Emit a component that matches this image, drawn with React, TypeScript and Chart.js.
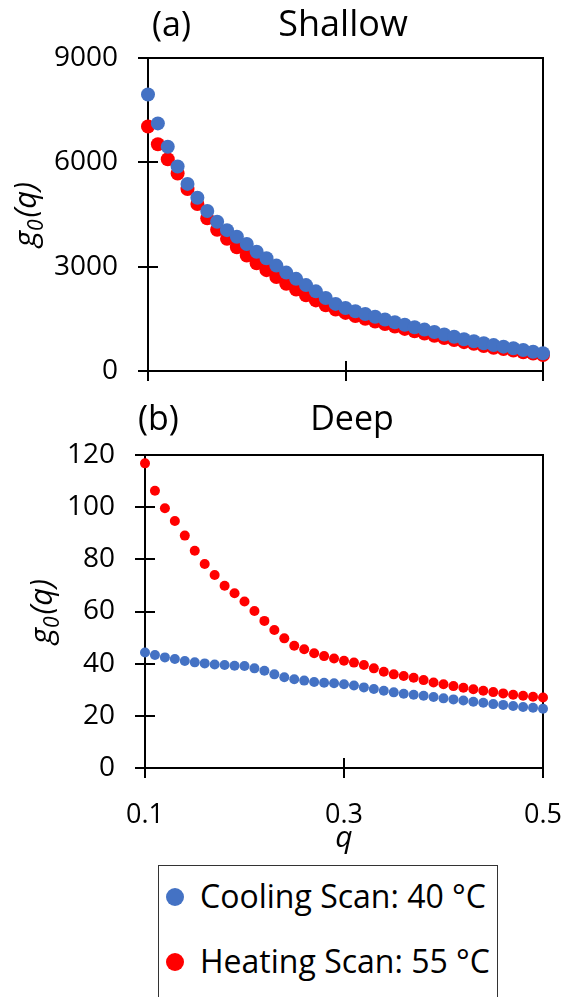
import React, { useEffect, useRef } from "react";
import { Chart, registerables } from "chart.js";

Chart.register(...registerables);

// ---------------- data ----------------
const Q = [
  0.10, 0.11, 0.12, 0.13, 0.14, 0.15, 0.16, 0.17, 0.18, 0.19,
  0.20, 0.21, 0.22, 0.23, 0.24, 0.25, 0.26, 0.27, 0.28, 0.29,
  0.30, 0.31, 0.32, 0.33, 0.34, 0.35, 0.36, 0.37, 0.38, 0.39,
  0.40, 0.41, 0.42, 0.43, 0.44, 0.45, 0.46, 0.47, 0.48, 0.49, 0.50,
];

const shallowCooling = [
  7950, 7120, 6450, 5880, 5380, 4980, 4600, 4290, 4050, 3860,
  3650, 3430, 3240, 3030, 2830, 2650, 2470, 2290, 2100, 1930,
  1810, 1720, 1640, 1560, 1480, 1400, 1330, 1260, 1190, 1120,
  1050, 985, 915, 855, 800, 745, 700, 655, 605, 555, 510,
];

const shallowHeating = [
  7030, 6520, 6090, 5680, 5230, 4800, 4390, 4060, 3800, 3560,
  3320, 3100, 2900, 2700, 2510, 2340, 2180, 2030, 1890, 1770,
  1670, 1580, 1500, 1420, 1350, 1280, 1210, 1140, 1080, 1010,
  950, 890, 830, 780, 720, 670, 630, 590, 540, 500, 460,
];

const deepCooling = [
  44.3, 43.3, 42.4, 41.8, 41.0, 40.5, 40.1, 39.7, 39.5, 39.2,
  39.1, 38.2, 37.3, 35.9, 34.8, 34.0, 33.5, 33.0, 32.7, 32.5,
  32.1, 31.6, 30.9, 30.3, 29.6, 29.0, 28.5, 28.1, 27.7, 27.2,
  26.7, 26.3, 25.9, 25.4, 25.0, 24.5, 24.2, 23.8, 23.4, 23.1, 22.7,
];

const deepHeating = [
  116.8, 106.3, 99.6, 94.7, 89.1, 83.3, 78.2, 74.0, 69.9, 67.0,
  63.8, 60.2, 56.4, 52.9, 49.7, 46.9, 45.5, 44.0, 42.9, 42.0,
  41.1, 40.4, 39.5, 38.2, 36.9, 35.9, 35.3, 34.6, 33.7, 32.8,
  32.1, 31.4, 30.8, 30.2, 29.6, 29.1, 28.6, 28.1, 27.7, 27.3, 27.0,
];

const qTicks = [0.1, 0.3, 0.5];
const qTickLabels = ["0.1", "0.3", "0.5"];
const shallowTicks = [0, 3000, 6000, 9000];
const deepTicks = [0, 20, 40, 60, 80, 100, 120];

const seriesNames = ["Cooling Scan: 40 °C", "Heating Scan: 55 °C"];
const panelTags = ["(a)", "(b)"];
const panelTitles = ["Shallow", "Deep"];

const COOL = "#4472C4";
const HEAT = "#FF0000";
const FONT = "'Open Sans', sans-serif";
const INK = "#000000";

type PanelCfg = {
  tag: string;
  title: string;
  tagX: number;
  titleX: number;
  titleSize: number;
  baseline: number;
  yTitleX: number;
};

function makePanelPlugin(cfg: PanelCfg) {
  return {
    id: "panelDecor",
    beforeDatasetsDraw(chart: any) {
      const ctx = chart.ctx;
      const a = chart.chartArea;
      const xs = chart.scales.x;
      const ys = chart.scales.y;
      ctx.save();
      ctx.strokeStyle = INK;
      ctx.lineWidth = 2;
      ctx.strokeRect(a.left, a.top, a.right - a.left, a.bottom - a.top);
      ctx.beginPath();
      for (const v of qTicks) {
        const px = Math.round(xs.getPixelForValue(v));
        ctx.moveTo(px, a.bottom - 10);
        ctx.lineTo(px, a.bottom + 10);
      }
      for (const t of ys.ticks) {
        const py = Math.round(ys.getPixelForValue(t.value));
        ctx.moveTo(a.left - 10, py);
        ctx.lineTo(a.left + 10, py);
      }
      ctx.stroke();
      ctx.restore();
    },
    afterDraw(chart: any) {
      const ctx = chart.ctx;
      const a = chart.chartArea;
      ctx.save();
      ctx.fillStyle = INK;
      ctx.textBaseline = "alphabetic";
      ctx.font = `34px ${FONT}`;
      ctx.textAlign = "left";
      ctx.fillText(cfg.tag, cfg.tagX, cfg.baseline);
      ctx.font = `${cfg.titleSize}px ${FONT}`;
      ctx.textAlign = "center";
      ctx.fillText(cfg.title, cfg.titleX, cfg.baseline);

      // rotated y-axis title g0(q)
      const cy = (a.top + a.bottom) / 2;
      ctx.translate(cfg.yTitleX, cy);
      ctx.rotate(-Math.PI / 2);
      const big = `italic 31px ${FONT}`;
      const small = `italic 21px ${FONT}`;
      ctx.font = big;
      const wg = ctx.measureText("g").width;
      ctx.font = small;
      const w0 = ctx.measureText("0").width;
      ctx.font = big;
      const wq = ctx.measureText("(q)").width;
      const total = wg + w0 + 2 + wq;
      let x = -total / 2;
      ctx.textAlign = "left";
      ctx.font = big;
      ctx.fillText("g", x, 0);
      x += wg;
      ctx.font = small;
      ctx.fillText("0", x, 7);
      x += w0 + 2;
      ctx.font = big;
      ctx.fillText("(q)", x, 0);
      ctx.restore();
    },
  };
}

function makeChart(
  canvas: HTMLCanvasElement,
  opts: {
    cool: number[];
    heat: number[];
    radius: number;
    yMax: number;
    yTicks: number[];
    yWidth: number;
    pad: { top: number; right: number; bottom: number; left: number };
    xHeight: number;
    showX: boolean;
    plugin: any;
  }
) {
  const toPts = (arr: number[]) => Q.map((q, i) => ({ x: q, y: arr[i] }));
  return new Chart(canvas, {
    type: "scatter",
    data: {
      datasets: [
        {
          label: seriesNames[0],
          data: toPts(opts.cool),
          backgroundColor: COOL,
          borderColor: COOL,
          pointRadius: opts.radius,
          pointBorderWidth: 0,
          clip: false as any,
        },
        {
          label: seriesNames[1],
          data: toPts(opts.heat),
          backgroundColor: HEAT,
          borderColor: HEAT,
          pointRadius: opts.radius,
          pointBorderWidth: 0,
          clip: false as any,
        },
      ],
    },
    options: {
      responsive: false,
      animation: false,
      events: [],
      layout: { padding: opts.pad },
      plugins: {
        legend: { display: false },
        tooltip: { enabled: false },
        title: { display: false },
      },
      scales: {
        x: {
          type: "linear",
          min: 0.1,
          max: 0.5,
          grid: { display: false, drawTicks: false },
          border: { display: false },
          afterBuildTicks: (s: any) => {
            s.ticks = qTicks.map((v) => ({ value: v }));
          },
          afterFit: (s: any) => {
            s.height = opts.xHeight;
            s.paddingLeft = 0;
            s.paddingRight = 0;
          },
          ticks: {
            display: opts.showX,
            padding: 31,
            maxRotation: 0,
            autoSkip: false,
            color: INK,
            font: { family: FONT, size: 27 },
            callback: (v: any) => {
              const i = qTicks.findIndex((t) => Math.abs(t - Number(v)) < 1e-9);
              return i >= 0 ? qTickLabels[i] : "";
            },
          },
          title: {
            display: opts.showX,
            text: "q",
            color: INK,
            font: { family: FONT, size: 30, style: "italic" },
            padding: { top: 0, bottom: 4 },
          },
        },
        y: {
          type: "linear",
          min: 0,
          max: opts.yMax,
          grid: { display: false, drawTicks: false },
          border: { display: false },
          afterBuildTicks: (s: any) => {
            s.ticks = opts.yTicks.map((v) => ({ value: v }));
          },
          afterFit: (s: any) => {
            s.width = opts.yWidth;
            s.paddingTop = 0;
            s.paddingBottom = 0;
          },
          ticks: {
            padding: 30,
            color: INK,
            autoSkip: false,
            font: { family: FONT, size: 28 },
            callback: (v: any) => String(v),
          },
        },
      },
    } as any,
    plugins: [opts.plugin],
  });
}

export default function App() {
  const refA = useRef<HTMLCanvasElement>(null);
  const refB = useRef<HTMLCanvasElement>(null);

  useEffect(() => {
    const a = makeChart(refA.current!, {
      cool: shallowCooling,
      heat: shallowHeating,
      radius: 7,
      yMax: 9000,
      yTicks: shallowTicks,
      yWidth: 148,
      pad: { top: 58, right: 20, bottom: 0, left: 0 },
      xHeight: 14,
      showX: false,
      plugin: makePanelPlugin({
        tag: panelTags[0],
        title: panelTitles[0],
        tagX: 152,
        titleX: 343,
        titleSize: 36,
        baseline: 36,
        yTitleX: 36,
      }),
    });
    const b = makeChart(refB.current!, {
      cool: deepCooling,
      heat: deepHeating,
      radius: 5,
      yMax: 120,
      yTicks: deepTicks,
      yWidth: 145,
      pad: { top: 70, right: 20, bottom: 0, left: 0 },
      xHeight: 92,
      showX: true,
      plugin: makePanelPlugin({
        tag: panelTags[1],
        title: panelTitles[1],
        tagX: 138,
        titleX: 352,
        titleSize: 34,
        baseline: 45,
        yTitleX: 52,
      }),
    });
    return () => {
      a.destroy();
      b.destroy();
    };
  }, []);

  const legendText: React.CSSProperties = {
    position: "absolute",
    left: 200,
    height: 44,
    lineHeight: "44px",
    fontFamily: FONT,
    fontSize: 32,
    color: INK,
    whiteSpace: "nowrap",
  };
  const dot = (c: string, cy: number): React.CSSProperties => ({
    position: "absolute",
    left: 166,
    top: cy - 9,
    width: 18,
    height: 18,
    borderRadius: "50%",
    background: c,
  });

  return (
    <div
      style={{
        position: "absolute",
        left: 0,
        top: 0,
        width: 563,
        height: 997,
        background: "#fff",
        overflow: "hidden",
      }}
    >
      <canvas
        ref={refA}
        width={563}
        height={385}
        style={{ position: "absolute", left: 0, top: 0 }}
      />
      <canvas
        ref={refB}
        width={563}
        height={475}
        style={{ position: "absolute", left: 0, top: 385 }}
      />
      <div
        style={{
          position: "absolute",
          left: 158,
          top: 865,
          width: 340,
          height: 150,
          border: "1.5px solid #333",
          boxSizing: "border-box",
        }}
      />
      <div style={dot(COOL, 897)} />
      <div style={{ ...legendText, top: 897 - 23 }}>{seriesNames[0]}</div>
      <div style={dot(HEAT, 962)} />
      <div style={{ ...legendText, top: 962 - 23 }}>{seriesNames[1]}</div>
    </div>
  );
}
